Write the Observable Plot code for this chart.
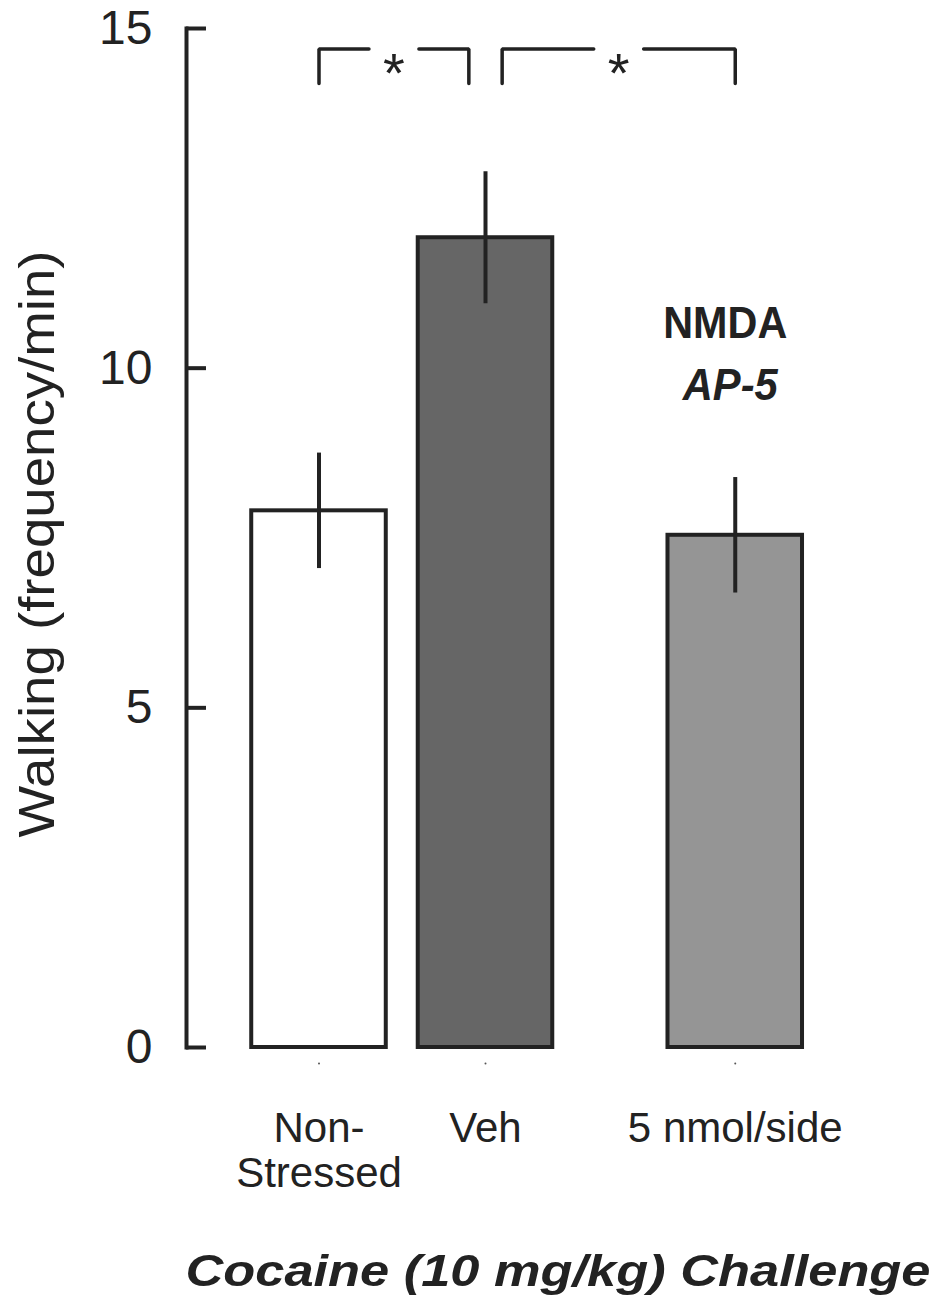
<!DOCTYPE html>
<html>
<head>
<meta charset="utf-8">
<script src="https://cdn.jsdelivr.net/npm/d3@7"></script>
<script src="https://cdn.jsdelivr.net/npm/@observablehq/plot@0.6"></script>
<style>
  html, body { margin: 0; padding: 0; background: #fff; }
</style>
</head>
<body>
<div id="chart"></div>
<script>
// ---- data ----
const groups = ["Non-Stressed", "Veh", "5 nmol/side"];
const tickLabels = ["Non-\nStressed", "Veh", "5 nmol/side"];
const means = [7.9, 11.92, 7.54];
const sems = [0.85, 0.97, 0.85];
const yTicks = [0, 5, 10, 15];
const sigLabels = ["*", "*"];
const yTitle = "Walking (frequency/min)";
const xTitle = "Cocaine (10 mg/kg) Challenge";
const drugName = "NMDA";
const drugAgent = "AP-5";

// ---- layout ----
const slots = [1, 2, 3.5];
const xDomain = [0.2042, 4.6066];
const barHalf = 0.404;
const tickLen = 0.12; // inward y-axis tick length, in x units (~20px)
const brackets = [[1, 1.9], [2.1, 3.5]];
const bracketTop = 14.7, bracketLow = 14.19, gapHalf = 0.15;
const annotX = 3.44, annotY1 = 10.44, annotY2 = 9.53;

const rows = groups.map((g, i) => ({group: g, pos: slots[i], mean: means[i], sem: sems[i]}));
const bracketLines = brackets.flatMap(([a, b], i) => {
  const m = (a + b) / 2;
  return [
    {id: i + "L", x: a, y: bracketLow}, {id: i + "L", x: a, y: bracketTop}, {id: i + "L", x: m - gapHalf, y: bracketTop},
    {id: i + "R", x: m + gapHalf, y: bracketTop}, {id: i + "R", x: b, y: bracketTop}, {id: i + "R", x: b, y: bracketLow}
  ];
});
const stars = brackets.map(([a, b], i) => ({x: (a + b) / 2, y: bracketTop, t: sigLabels[i]}));

const ink = "#222222";
const font = '"Liberation Sans", Arial, Helvetica, sans-serif';

const svg = Plot.plot({
  width: 939,
  height: 1298,
  marginTop: 28,
  marginBottom: 251,
  marginLeft: 186,
  marginRight: 20,
  style: {background: "white", fontFamily: font, color: ink, overflow: "visible"},
  x: {type: "linear", domain: xDomain},
  y: {domain: [0, 15]},
  color: {domain: groups, range: ["#ffffff", "#666666", "#959595"]},
  marks: [
    Plot.rectY(rows, {x1: d => d.pos - barHalf, x2: d => d.pos + barHalf, y1: 0, y2: "mean",
      fill: "group", stroke: ink, strokeWidth: 4}),
    Plot.ruleX(rows, {x: "pos", y1: d => d.mean - d.sem, y2: d => d.mean + d.sem, stroke: ink, strokeWidth: 4}),
    Plot.ruleY(yTicks, {y: d => d, x1: xDomain[0], x2: xDomain[0] + tickLen, stroke: ink, strokeWidth: 4}),
    Plot.frame({anchor: "left", stroke: ink, strokeWidth: 4}),
    Plot.axisY({ticks: yTicks, tickSize: 0, tickPadding: 34, fontSize: 48, tickFormat: d => String(d), fill: ink}),
    Plot.axisX({ticks: slots, tickSize: 0, tickPadding: 63, fontSize: 42, lineHeight: 1.07, fill: ink,
      tickFormat: d => tickLabels[slots.indexOf(d)]}),
    Plot.dot(slots, {x: d => d, frameAnchor: "bottom", dy: 16, r: 1, fill: "#555", stroke: null}),
    Plot.line(bracketLines, {x: "x", y: "y", z: "id", stroke: ink, strokeWidth: 3.5,
      strokeLinejoin: "miter", strokeLinecap: "round"}),
    Plot.text(stars, {x: "x", y: "y", text: "t", lineAnchor: "bottom", dy: 43, fontSize: 56, fill: ink}),
    Plot.text([drugName], {text: d => d, x: annotX, y: annotY1, lineAnchor: "bottom", fontSize: 44,
      fontWeight: "bold", fill: ink}),
    Plot.text([drugAgent], {text: d => d, x: annotX, y: annotY2, dx: 5, lineAnchor: "bottom", fontSize: 44,
      fontWeight: "bold", fontStyle: "italic", fill: ink}),
    Plot.text([yTitle], {text: d => d, frameAnchor: "left", textAnchor: "middle", rotate: -90, dx: -133, dy: 6,
      lineAnchor: "bottom", fontSize: 50, fill: ink}),
    Plot.text([xTitle], {text: d => d, frameAnchor: "bottom", textAnchor: "middle", dx: 5, dy: 238,
      lineAnchor: "bottom", fontSize: 44, fontWeight: "bold", fontStyle: "italic", fill: ink})
  ]
});

function fit(label, len) {
  d3.select(svg).selectAll("text")
    .filter(function () { return this.textContent === label; })
    .attr("textLength", len).attr("lengthAdjust", "spacingAndGlyphs");
}
fit(drugName, 124);
fit(drugAgent, 95);
fit(yTitle, 587);
fit(xTitle, 745);

document.getElementById("chart").appendChild(svg);
</script>
</body>
</html>
